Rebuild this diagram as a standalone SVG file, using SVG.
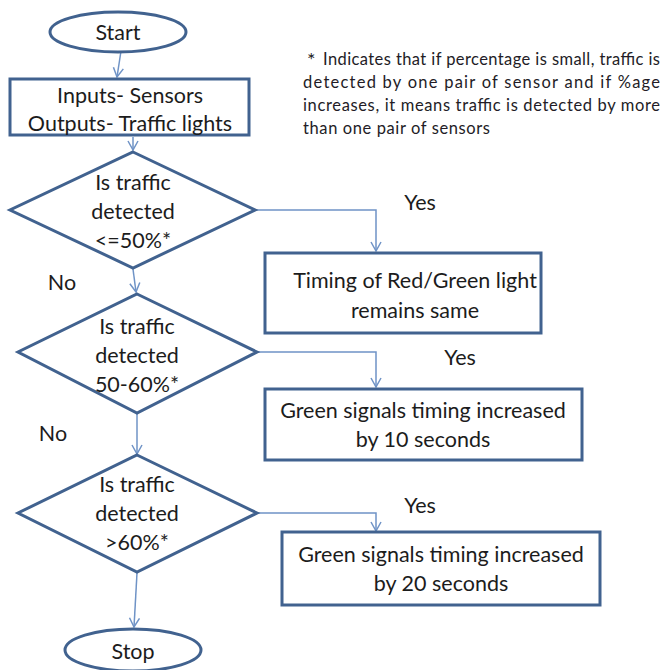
<svg xmlns="http://www.w3.org/2000/svg" width="662" height="670" viewBox="0 0 662 670">
<style>
.shape{fill:#fff;stroke:#41628f;stroke-width:3}
.conn{fill:none;stroke:#6f93c6;stroke-width:1.5}
.t{font-family:Lato,"Liberation Sans",sans-serif;font-size:21.5px;fill:#1c1c1c;text-anchor:middle}
.note{font-family:Lato,"Liberation Sans",sans-serif;font-size:16.5px;fill:#231c26}
</style>
<defs>
<marker id="arr" markerWidth="12" markerHeight="12" refX="10" refY="6" orient="auto" markerUnits="userSpaceOnUse">
<path d="M1,1 L10,6 L1,11" fill="none" stroke="#6f93c6" stroke-width="1.5"/>
</marker>
</defs>
<rect width="662" height="670" fill="#fff"/>
<g id="connectors">
<path class="conn" d="M121,51 L117,77" marker-end="url(#arr)"/>
<path class="conn" d="M133,137 L133,150" marker-end="url(#arr)"/>
<path class="conn" d="M255,210 L376,210 L376,251" marker-end="url(#arr)"/>
<path class="conn" d="M133,269 L136,292" marker-end="url(#arr)"/>
<path class="conn" d="M257,352 L376,352 L376,387" marker-end="url(#arr)"/>
<path class="conn" d="M137,414 L137,454" marker-end="url(#arr)"/>
<path class="conn" d="M257,513 L376,513 L376,531" marker-end="url(#arr)"/>
<path class="conn" d="M137,573 L134,627" marker-end="url(#arr)"/>
</g>
<g id="start">
<ellipse class="shape" cx="118" cy="32" rx="68" ry="20"/>
<text class="t" x="118" y="40">Start</text>
</g>
<g id="io">
<rect class="shape" x="10" y="79" width="239" height="56"/>
<text class="t" x="130" y="103">Inputs- Sensors</text>
<text class="t" x="130" y="131">Outputs- Traffic lights</text>
</g>
<g id="note">
<text class="note" x="307" y="65"><tspan font-size="20" dy="2">*</tspan><tspan dy="-2" x="323" textLength="337" lengthAdjust="spacing">Indicates that if percentage is small, traffic is</tspan></text>
<text class="note" x="303" y="88" textLength="357" lengthAdjust="spacing">detected by one pair of sensor and if %age</text>
<text class="note" x="303" y="111" textLength="357" lengthAdjust="spacing">increases, it means traffic is detected by more</text>
<text class="note" x="303" y="134" textLength="187" lengthAdjust="spacing">than one pair of sensors</text>
</g>
<g id="d1">
<polygon class="shape" points="133,152 255,210 133,268 10,210"/>
<text class="t" x="133" y="190">Is traffic</text>
<text class="t" x="133" y="219">detected</text>
<text class="t" x="133" y="248">&lt;=50%*</text>
</g>
<g id="box1">
<rect class="shape" x="265" y="253" width="276" height="80"/>
<text class="t" x="415" y="288">Timing of Red/Green light</text>
<text class="t" x="415" y="318">remains same</text>
</g>
<g id="d2">
<polygon class="shape" points="137,294 257,352 137,413 18,352"/>
<text class="t" x="137" y="334">Is traffic</text>
<text class="t" x="137" y="363">detected</text>
<text class="t" x="137" y="392">50-60%*</text>
</g>
<g id="box2">
<rect class="shape" x="265" y="389" width="317" height="71"/>
<text class="t" x="423" y="418">Green signals timing increased</text>
<text class="t" x="423" y="447">by 10 seconds</text>
</g>
<g id="d3">
<polygon class="shape" points="137,455 257,513 137,572 18,513"/>
<text class="t" x="137" y="492">Is traffic</text>
<text class="t" x="137" y="521">detected</text>
<text class="t" x="137" y="550">&gt;60%*</text>
</g>
<g id="box3">
<rect class="shape" x="282" y="532" width="318" height="73"/>
<text class="t" x="441" y="562">Green signals timing increased</text>
<text class="t" x="441" y="591">by 20 seconds</text>
</g>
<g id="stop">
<ellipse class="shape" cx="133" cy="650" rx="68" ry="21"/>
<text class="t" x="133" y="659">Stop</text>
</g>
<g id="labels">
<text class="t" x="420" y="210">Yes</text>
<text class="t" x="62" y="290">No</text>
<text class="t" x="460" y="365">Yes</text>
<text class="t" x="53" y="441">No</text>
<text class="t" x="420" y="513">Yes</text>
</g>
</svg>
